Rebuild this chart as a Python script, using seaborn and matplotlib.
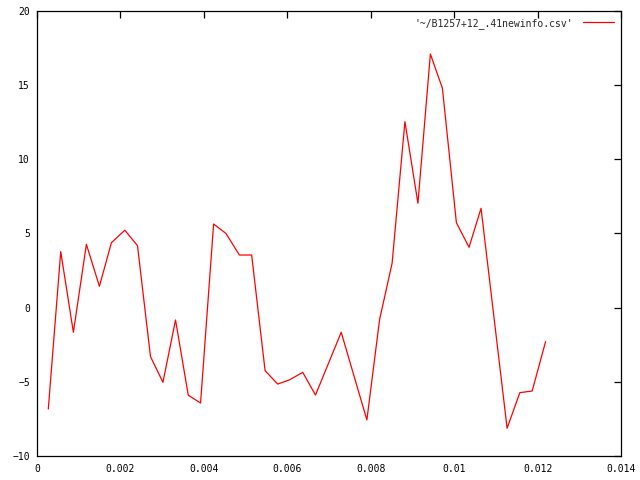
import matplotlib
matplotlib.use("Agg")
import matplotlib.pyplot as plt
import seaborn as sns
import pandas as pd

x_vals = [0.000271, 0.000569, 0.000872, 0.001184, 0.001496, 0.001784, 0.002106,
          0.002409, 0.002721, 0.003019, 0.003321, 0.003626, 0.003921, 0.004234,
          0.004531, 0.004851, 0.005146, 0.005468, 0.005770, 0.006051, 0.006371,
          0.006676, 0.007293, 0.007908, 0.008213, 0.008513, 0.008820, 0.009132,
          0.009430, 0.009718, 0.010054, 0.010357, 0.010645, 0.011270, 0.011575,
          0.011870, 0.012192]
y_vals = [-6.83, 3.78, -1.66, 4.27, 1.44, 4.38, 5.22,
          4.18, -3.3, -5.03, -0.83, -5.9, -6.43, 5.64,
          5.0, 3.55, 3.55, -4.25, -5.15, -4.87, -4.36,
          -5.89, -1.66, -7.57, -0.8, 3.0, 12.54, 7.04,
          17.1, 14.8, 5.73, 4.07, 6.70, -8.13, -5.73,
          -5.62, -2.29]
series_label = "'~/B1257+12_.41newinfo.csv'"
x_ticks = [0, 0.002, 0.004, 0.006, 0.008, 0.01, 0.012, 0.014]
x_tick_labels = ["0", "0.002", "0.004", "0.006", "0.008", "0.01", "0.012", "0.014"]
y_ticks = [-10, -5, 0, 5, 10, 15, 20]

df = pd.DataFrame({"x": x_vals, "y": y_vals})

sns.set_style("white")
plt.rcParams["font.family"] = ["DejaVu Sans Mono"]

fig = plt.figure(figsize=(6.4, 4.8), dpi=100)
ax = fig.add_axes([37/640, 1 - 456/480, (621 - 37)/640, (456 - 11)/480])

sns.lineplot(data=df, x="x", y="y", ax=ax, color="#ff0000", linewidth=0.9,
             sort=False, label=series_label, estimator=None)

ax.set_xlim(0, 0.014)
ax.set_ylim(-10, 20)
ax.set_xticks(x_ticks)
ax.set_xticklabels(x_tick_labels)
ax.set_yticks(y_ticks)
ax.set_xlabel("")
ax.set_ylabel("")

for s in ax.spines.values():
    s.set_visible(True)
    s.set_color("black")
    s.set_linewidth(0.9)

ax.tick_params(axis="both", which="both", direction="in", length=5, width=0.9,
               top=True, right=True, labelsize=7, colors="black")
ax.tick_params(axis="x", pad=6)
ax.tick_params(axis="y", pad=5)

leg = ax.legend(loc="upper right", frameon=False, fontsize=7, markerfirst=False,
                handlelength=3.2, borderaxespad=0.3, handletextpad=1.0)
for line in leg.get_lines():
    line.set_linewidth(0.9)

fig.savefig("out.png", dpi=100, facecolor="white")
